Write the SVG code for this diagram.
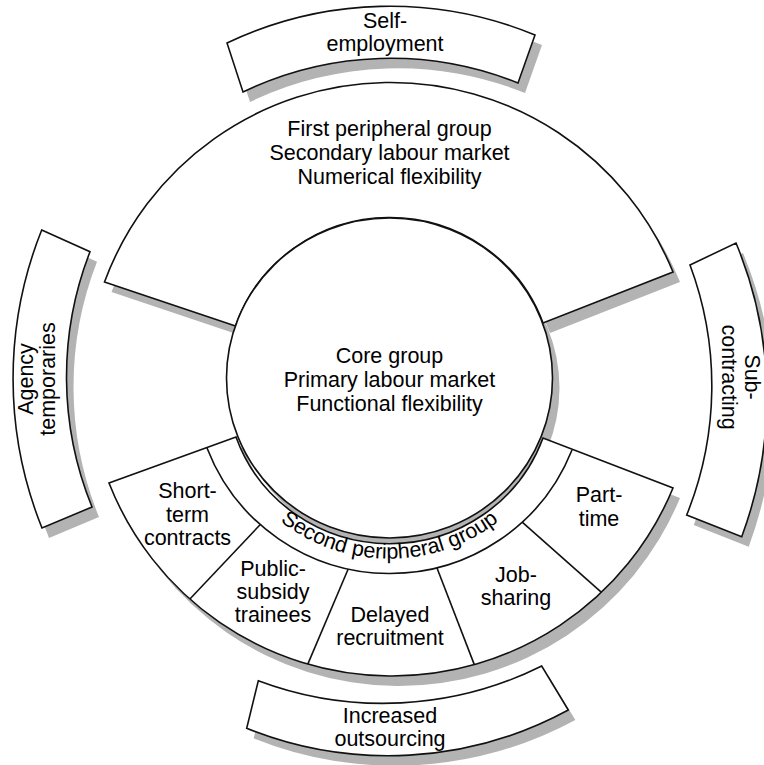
<svg xmlns="http://www.w3.org/2000/svg" width="764" height="765" viewBox="0 0 764 765">
<style>
.sh{fill:#b3b3b3;stroke:none}
.bx{fill:#fff;stroke:#111;stroke-width:1.6;stroke-linejoin:miter}
.ln{fill:none;stroke:#111;stroke-width:1.6}
text{font-family:"Liberation Sans",Arial,Helvetica,sans-serif;font-size:21.5px;fill:#000;text-anchor:middle}
</style>
<defs>
<ellipse id="sCore" cx="389.5" cy="378" rx="163" ry="160"/>
<path id="sFp" d="M 235.5 326 L 104.5 282 A 305 305 0 0 1 673 272 L 543 323 A 163 160 0 0 0 235.5 326 Z"/>
<path id="sSp" d="M 236 437 L 109 483 A 304 304 0 0 0 673 488 L 543 438 A 163 160 0 0 1 236 437 Z"/>
<path id="sSe" d="M 227 43 A 380 380 0 0 1 535 35 L 518 83 A 340 340 0 0 0 243 92 Z"/>
<path id="sAg" d="M 41.7 230 L 90 251.7 A 345 345 0 0 0 92 507 L 42 528 A 400 400 0 0 1 41.7 230 Z"/>
<path id="sSc" d="M 690 265 L 736 243 A 400 400 0 0 1 741.7 536.7 L 686.7 515 A 345 345 0 0 0 690 265 Z"/>
<path id="sIo" d="M 258.3 680.7 A 355 355 0 0 0 541.7 666 L 568.3 710 A 378 378 0 0 1 246.7 728.3 Z"/>
<path id="arcSp" d="M 221.3 439 A 178 178 0 0 0 557.7 439"/>
</defs>

<g id="shadows" transform="translate(7,10)">
<use href="#sCore" class="sh"/>
<use href="#sFp" class="sh"/>
<use href="#sSp" class="sh"/>
<use href="#sSe" class="sh"/>
<use href="#sAg" class="sh"/>
<use href="#sSc" class="sh"/>
<use href="#sIo" class="sh"/>
</g>

<g id="self-employment">
<use href="#sSe" class="bx"/>
<text x="385" y="28">Self-</text>
<text x="385" y="51">employment</text>
</g>

<g id="agency-temporaries">
<use href="#sAg" class="bx"/>
<text transform="translate(33,379) rotate(-90)">Agency</text>
<text transform="translate(55,379) rotate(-90)">temporaries</text>
</g>

<g id="sub-contracting">
<use href="#sSc" class="bx"/>
<text transform="translate(745,377) rotate(90)">Sub-</text>
<text transform="translate(722,377) rotate(90)">contracting</text>
</g>

<g id="increased-outsourcing">
<use href="#sIo" class="bx"/>
<text x="390" y="723">Increased</text>
<text x="390" y="746">outsourcing</text>
</g>

<g id="first-peripheral-group">
<use href="#sFp" class="bx"/>
<text x="389.5" y="136">First peripheral group</text>
<text x="389.5" y="160">Secondary labour market</text>
<text x="389.5" y="184">Numerical flexibility</text>
</g>

<g id="second-peripheral-group">
<use href="#sSp" class="bx"/>
<path class="ln" d="M 207 448 A 196 196 0 0 0 572 450"/>
<path class="ln" d="M 260.3 524.5 L 189.9 599"/>
<path class="ln" d="M 348.2 569 L 307.8 664.1"/>
<path class="ln" d="M 437 568 L 474.3 664.6"/>
<path class="ln" d="M 522.2 522.1 L 601.2 592.1"/>
<text><textPath href="#arcSp" startOffset="50%">Second peripheral group</textPath></text>
<g id="short-term-contracts">
<text x="187.5" y="498">Short-</text>
<text x="187.5" y="521.5">term</text>
<text x="187.5" y="545">contracts</text>
</g>
<g id="public-subsidy-trainees">
<text x="273" y="576">Public-</text>
<text x="273" y="599">subsidy</text>
<text x="273" y="622">trainees</text>
</g>
<g id="delayed-recruitment">
<text x="390" y="621.5">Delayed</text>
<text x="390" y="645">recruitment</text>
</g>
<g id="job-sharing">
<text x="516" y="582">Job-</text>
<text x="516" y="605">sharing</text>
</g>
<g id="part-time">
<text x="599" y="502">Part-</text>
<text x="599" y="526">time</text>
</g>
</g>

<g id="core-group">
<use href="#sCore" class="bx"/>
<text x="389.5" y="363">Core group</text>
<text x="389.5" y="387">Primary labour market</text>
<text x="389.5" y="411">Functional flexibility</text>
</g>

<g id="connectors"/>
</svg>
